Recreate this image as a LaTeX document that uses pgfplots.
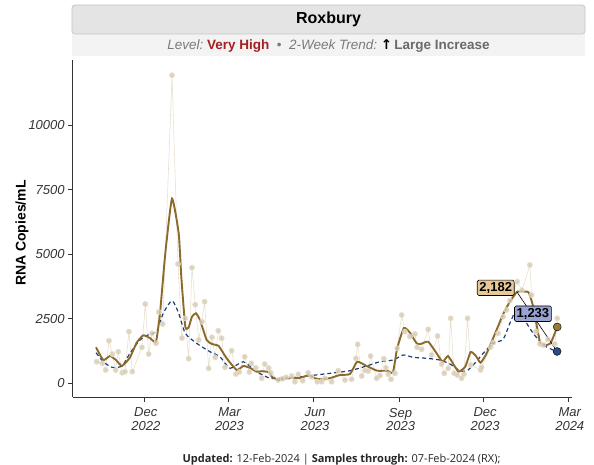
\documentclass[border=0pt]{standalone}
\usepackage{pgfplots}
\pgfplotsset{compat=1.18}
\usepackage{pgfplotstable}
\usepackage{fontspec}
\setmainfont{Liberation Sans}
\newfontfamily\capfont{Open Sans}
\newfontfamily\symfont{DejaVu Sans}
\definecolor{rawpt}{HTML}{D6CAB2}
\definecolor{rawln}{HTML}{E6DDCD}
\definecolor{brownln}{HTML}{8C6A2B}
\definecolor{blueln}{HTML}{1E3D78}
\definecolor{browndot}{HTML}{9A783A}
\definecolor{bluedot}{HTML}{2D4B80}
\definecolor{tanbox}{HTML}{E8C996}
\definecolor{bluebox}{HTML}{99A4D4}
\definecolor{axgrey}{HTML}{333333}
\definecolor{titlefill}{HTML}{E4E4E4}
\definecolor{titledraw}{HTML}{C6C6C6}
\definecolor{subfill}{HTML}{F3F3F3}
\definecolor{subgrey}{HTML}{7A7A7A}
\definecolor{vhred}{HTML}{A51E22}
\definecolor{ligrey}{HTML}{6A6A6A}

% x = days since 1 Dec 2022, y = RNA copies/mL
\pgfplotstableread{
x y
-51.2 836
-45.2 774
-41.5 515
-38 1650
-34.4 1134
-30.8 515
-28 1223
-23.7 410
-20.8 450
-16.5 2000
-12.9 450
-2.5 1394
1.1 3070
4.7 1134
8.3 1935
12.6 1548
15.5 2760
19.8 2296
29.8 11924
36.2 4618
40.5 1754
44.1 2516
47.7 952
51.3 4476
54.8 3043
58.5 1676
62 2385
64.9 3159
69.2 580
72.8 1781
76.3 1006
79.6 2036
83.2 1742
86.8 619
94 1262
98.6 360
102.2 437
108 1030
113 437
115.1 774
120 600
126.3 194
129.5 747
133.8 592
136 410
144.1 128
148.8 180
152.4 232
158.5 283
162 62
165.6 348
170.3 100
176.3 410
180 250
186 62
190.8 62
194.3 194
201.5 62
208.6 488
215.8 128
223 155
227.6 968
229.5 1510
233.8 283
237.3 500
240.9 476
243.4 1057
249.9 194
253.4 300
257.7 952
259.9 600
262.4 350
265.3 155
269.6 387
272 1355
276.8 2644
280.3 2000
285.7 1806
291.1 1909
293.5 1394
298.3 1316
305.4 2090
309 1096
315.5 1831
319.8 747
322.6 387
326.9 580
329.5 2516
333.3 387
336.6 321
341.3 194
343.8 350
347.7 2516
351 708
361.7 515
362.8 619
372.5 1400
375.3 1572
380.6 1936
386 2578
389.7 2838
393.2 3200
401.1 3933
406.2 3600
414.7 4580
416.5 3418
421.2 2000
425.5 1521
429 1483
434.1 1700
441.6 1521
444.1 2516
}\rawdata

\pgfplotstableread{
x y
-51.9 1394
-44.1 900
-36.9 1057
-30.4 900
-24 670
-15.4 1000
-8.2 1572
-1.1 1858
6.1 1750
12.6 1610
16.9 2710
22.6 5033
29.8 7147
37 5807
39.8 4127
44.1 2191
47.7 2168
51.3 2578
55.6 2710
59.9 2451
67.1 1676
72.8 1521
80 1444
88.6 968
99.4 515
106.5 670
113.7 600
120.9 449
126.6 470
133.8 430
137.3 250
144.5 128
152.4 180
160.2 217
167.4 200
176.8 321
183.5 200
188.9 155
199.7 200
210.4 321
221.2 360
229 836
239.1 670
250.5 488
261.3 488
267.4 420
272 1355
279.2 2141
285.7 1959
292.9 1549
297.2 1521
305.4 1610
314.4 1161
320.9 836
326.6 1057
333 708
338.1 449
345.2 643
351 1212
356.7 1057
361.7 798
368.2 1161
377.4 1936
386 2683
393.2 3159
401.1 3546
406.9 3546
413.3 3523
418.3 2966
425.5 1610
430.9 1483
437 1549
444.1 2182
}\smoothdata

\pgfplotstableread{
x y
-51.9 1185
-44.1 836
-34.7 619
-24 670
-15.4 1161
-4.6 1676
6.1 1909
13.3 2000
20.4 2710
29.8 3198
37 2710
44.1 1936
56.3 1549
70.6 1223
81.4 1030
92.2 580
106.5 836
120.9 449
135.2 194
145.9 194
160.2 217
181.7 310
199.7 387
221.2 488
239.1 670
253.4 836
267.7 902
278.5 1096
289.2 1007
303.7 968
317.9 902
328.7 747
339.5 488
346.7 480
353.8 708
364.5 1161
375.3 1549
386 1703
393.2 2323
401.1 2865
411.2 2323
418.3 1936
429 1483
443.4 1233
}\trenddata

\begin{document}
\begin{tikzpicture}[x=1pt,y=1pt]
\useasboundingbox (-72.7,-67) rectangle (521.3,397);
% title strip
\fill[subfill] (-0.7,341) rectangle (512.3,363);
\draw[titledraw, fill=titlefill, rounded corners=3pt, line width=0.8pt] (-0.7,363) rectangle (512.3,392);
\node[font=\fontsize{16}{18}\selectfont\bfseries] at (255.8,377.5) {Roxbury};
\node[font=\fontsize{13.5}{15}\selectfont] at (255.8,351.5)
 {{\color{subgrey}\itshape Level:}\ {\color{vhred}\bfseries Very High}\ \ {\color{subgrey}•}\ \ {\color{subgrey}\itshape 2-Week Trend:}\ {\symfont\bfseries ↑}\,{\color{ligrey}\bfseries Large Increase}};
% y label
\node[rotate=90, font=\fontsize{14}{16}\selectfont\bfseries] at (-50.7,164) {RNA Copies/mL};
% caption
\node[anchor=base, font=\capfont\fontsize{11}{13}\selectfont, text=black!85] at (268.8,-65)
 {{\bfseries Updated:} 12-Feb-2024 | {\bfseries Samples through:} 07-Feb-2024 (RX);};

\begin{axis}[
  scale only axis, width=499pt, height=337pt,
  xmin=-77, xmax=459.7, ymin=-530, ymax=12515,
  axis lines=left,
  axis line style={-, draw=axgrey, line width=0.9pt},
  tick style={draw=axgrey, line width=0.8pt},
  tick align=outside, major tick length=4.5pt,
  xtick={0,90,182,274,365,456},
  xticklabels={{Dec\\2022},{Mar\\2023},{Jun\\2023},{Sep\\2023},{Dec\\2023},{Mar\\2024}},
  xticklabel style={font=\fontsize{13}{13.5}\selectfont\itshape, align=center, text=axgrey, yshift=-3pt, xshift=1.5pt},
  ytick={0,2500,5000,7500,10000},
  scaled y ticks=false,
  yticklabel style={font=\fontsize{13}{14.5}\selectfont\itshape, text=axgrey},
  /pgf/number format/assume math mode=true,
  /pgf/number format/1000 sep={},
  clip=false,
]
\addplot[rawln, line width=0.55pt, mark=*, mark size=2.6pt,
  mark options={draw=none, fill=rawpt, fill opacity=0.8}] table {\rawdata};
\addplot[blueln, line width=1.2pt, dash pattern=on 4pt off 3pt, smooth, tension=0.4, no marks] table {\trenddata};
\addplot[brownln, line width=1.9pt, smooth, tension=0.3, no marks] table {\smoothdata};
\draw[black, line width=0.6pt] (axis cs:400.6,3546) -- (axis cs:444,1233);
\node[draw=black, fill=tanbox, rounded corners=1.5pt, inner sep=2.2pt, line width=0.6pt,
  font=\fontsize{13}{14}\selectfont\bfseries] at (axis cs:378,3697) {2,182};
\node[draw=black, fill=bluebox, rounded corners=1.5pt, inner sep=2.2pt, line width=0.6pt,
  font=\fontsize{13}{14}\selectfont\bfseries] at (axis cs:418,2694) {1,233};
\addplot[only marks, mark=*, mark size=4pt, mark options={draw=none, fill=browndot}] coordinates {(444.1,2182)};
\addplot[only marks, mark=*, mark size=4pt, mark options={draw=none, fill=bluedot}] coordinates {(444,1233)};
\end{axis}
\end{tikzpicture}
\end{document}
